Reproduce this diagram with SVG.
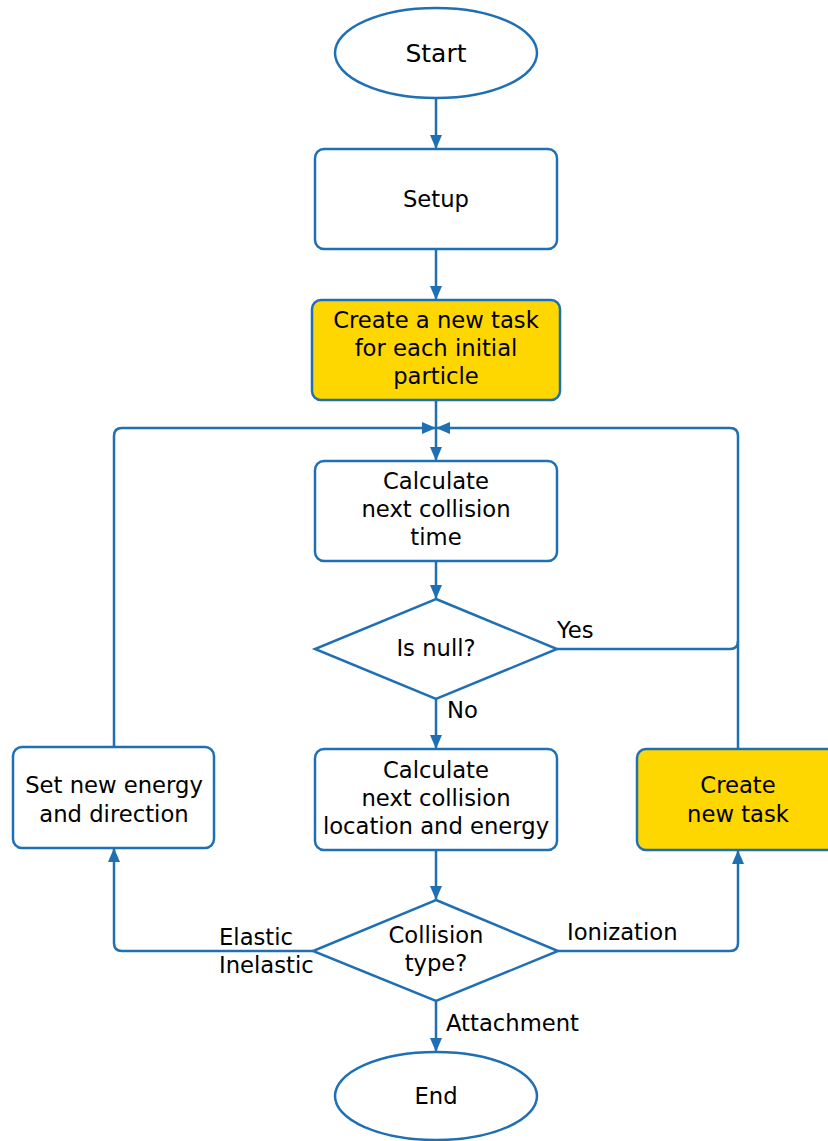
<svg xmlns="http://www.w3.org/2000/svg" width="828" height="1141" viewBox="0 0 828 1141">
<style>
.n{fill:#fff;stroke:#1f6fb4;stroke-width:2.5}
.y{fill:#ffd700;stroke:#1f6fb4;stroke-width:2.5}
.c{fill:none;stroke:#1f6fb4;stroke-width:2.5}
text{font-family:"DejaVu Sans",sans-serif;font-size:22.7px;fill:#000}
.m{text-anchor:middle}
</style>
<defs>
<marker id="a" viewBox="0 0 14 12" refX="14" refY="6" markerWidth="14" markerHeight="12" markerUnits="userSpaceOnUse" orient="auto">
<path d="M0,0 L14,6 L0,12 Z" fill="#1f6fb4"/>
</marker>
</defs>
<g id="connectors">
<path class="c" d="M436,98 V149" marker-end="url(#a)"/>
<path class="c" d="M436,249 V300" marker-end="url(#a)"/>
<path class="c" d="M436,400 V461" marker-end="url(#a)"/>
<path class="c" d="M436,561 V599" marker-end="url(#a)"/>
<path class="c" d="M436,699 V749" marker-end="url(#a)"/>
<path class="c" d="M436,850 V900" marker-end="url(#a)"/>
<path class="c" d="M436,1001 V1052" marker-end="url(#a)"/>
<path class="c" d="M557,649 H730 Q738,649 738,641"/>
<path class="c" d="M738,749 V436 Q738,428 730,428 H436" marker-end="url(#a)"/>
<path class="c" d="M114,747 V436 Q114,428 122,428 H436" marker-end="url(#a)"/>
<path class="c" d="M313,951 H122 Q114,951 114,943 V848" marker-end="url(#a)"/>
<path class="c" d="M558,951 H730 Q738,951 738,943 V850" marker-end="url(#a)"/>
<text x="557" y="638">Yes</text>
<text x="447" y="718">No</text>
<text x="219" y="945">Elastic</text>
<text x="219" y="973">Inelastic</text>
<text x="567" y="940">Ionization</text>
<text x="446" y="1031">Attachment</text>
</g>
<g id="start">
<ellipse class="n" cx="436" cy="53" rx="101" ry="45"/>
<text class="m" x="436" y="62" style="font-size:25px">Start</text>
</g>
<g id="setup">
<rect class="n" x="315" y="149" width="242" height="100" rx="9"/>
<text class="m" x="436" y="207">Setup</text>
</g>
<g id="create-initial">
<rect class="y" x="312" y="300" width="248" height="100" rx="9"/>
<text class="m" x="436" y="328">Create a new task</text>
<text class="m" x="436" y="356">for each initial</text>
<text class="m" x="436" y="384">particle</text>
</g>
<g id="calc-time">
<rect class="n" x="315" y="461" width="242" height="100" rx="9"/>
<text class="m" x="436" y="489">Calculate</text>
<text class="m" x="436" y="517">next collision</text>
<text class="m" x="436" y="545">time</text>
</g>
<g id="is-null">
<path class="n" d="M436,599 L557,649 L436,699 L315,649 Z"/>
<text class="m" x="436" y="656">Is null?</text>
</g>
<g id="calc-location">
<rect class="n" x="315" y="749" width="242" height="101" rx="9"/>
<text class="m" x="436" y="778">Calculate</text>
<text class="m" x="436" y="806">next collision</text>
<text class="m" x="436" y="834">location and energy</text>
</g>
<g id="set-energy">
<rect class="n" x="13" y="747" width="201" height="101" rx="9"/>
<text class="m" x="114" y="793">Set new energy</text>
<text class="m" x="114" y="822">and direction</text>
</g>
<g id="create-new">
<rect class="y" x="637" y="749" width="202" height="101" rx="9"/>
<text class="m" x="738" y="793">Create</text>
<text class="m" x="738" y="822">new task</text>
</g>
<g id="collision-type">
<path class="n" d="M436,900 L558,951 L436,1001 L313,951 Z"/>
<text class="m" x="436" y="943">Collision</text>
<text class="m" x="436" y="971">type?</text>
</g>
<g id="end">
<ellipse class="n" cx="436" cy="1096" rx="101" ry="44"/>
<text class="m" x="436" y="1104">End</text>
</g>
</svg>
